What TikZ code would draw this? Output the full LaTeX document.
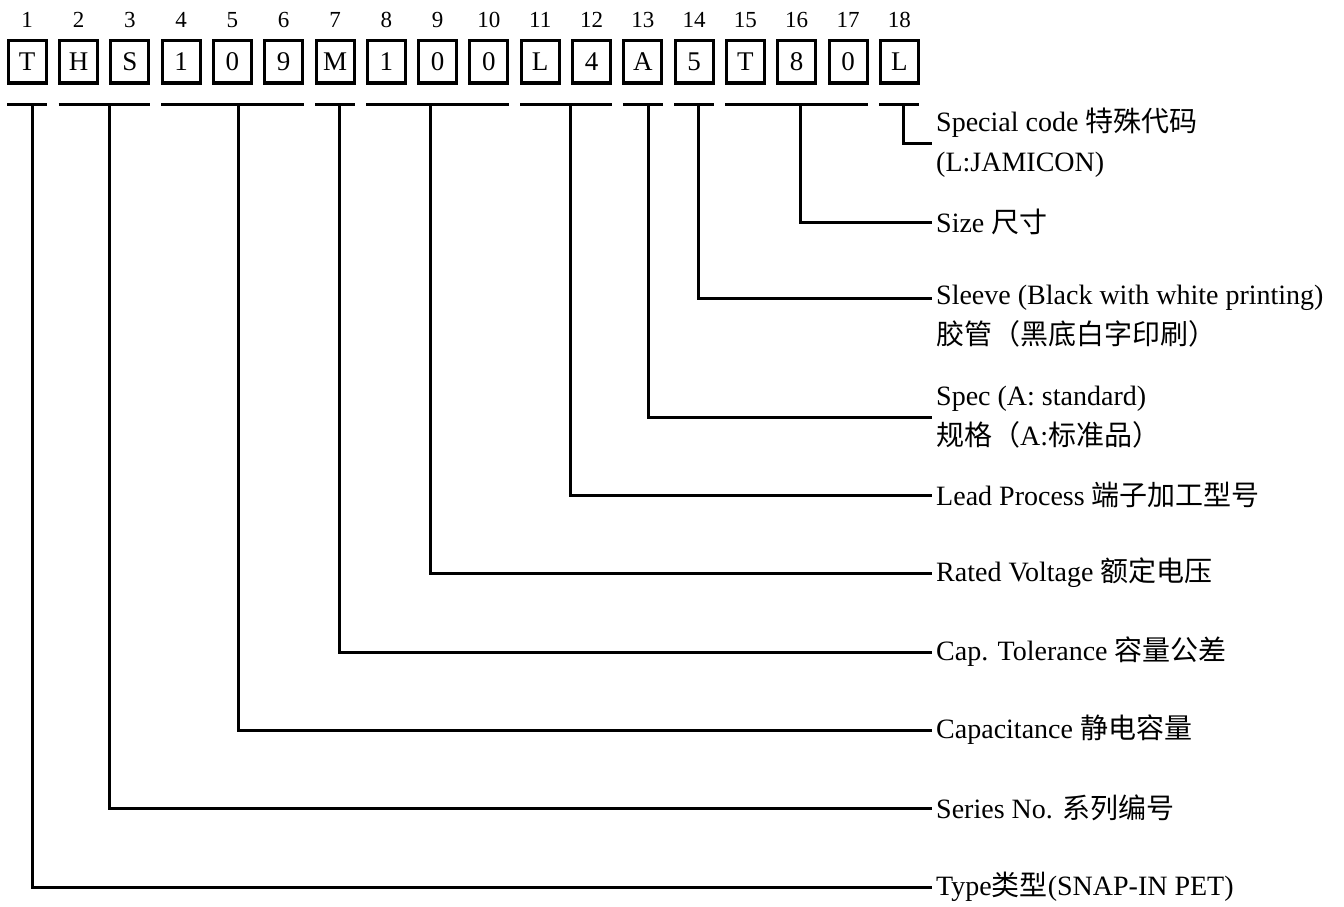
\documentclass[tikz,border=0pt]{standalone}
\usepackage{fontspec}
\setmainfont{Liberation Serif}
\newfontfamily\cjk{Noto Sans CJK SC}
\newcommand{\zh}[1]{{\cjk #1}}
\usetikzlibrary{calc}
\tikzset{
  every picture/.style={line join=miter, line cap=butt},
  codebox/.style={draw, line width=3pt, minimum width=38pt, minimum height=42pt, inner sep=0pt, outer sep=0pt, font=\fontsize{27}{30}\selectfont},
  posnum/.style={inner sep=0pt, font=\fontsize{23}{26}\selectfont},
  lbl/.style={anchor=west, inner xsep=4pt, inner ysep=0pt, align=left, font=\fontsize{28}{40}\selectfont},
  lead/.style={line width=3pt},
}

\begin{document}
\begin{tikzpicture}[x=1pt,y=-1pt]
\useasboundingbox (0,0) rectangle (1344,907);
% code boxes with position numbers
\foreach \ch [count=\i] in {T,H,S,1,0,9,M,1,0,0,L,4,A,5,T,8,0,L}{
  \node[codebox] (b\i) at ({27.2+51.3*(\i-1)},62) {\ch};
  \node[posnum] (n\i) at ({27.2+51.3*(\i-1)},20) {\i};
}
% underlines of the fields
\foreach \a/\b in {1/1,2/3,4/6,7/7,8/10,11/12,13/13,14/14,15/17,18/18}
  \draw[lead] ($(b\a.south west)+(-1,21)$)--($(b\b.south east)+(1,21)$);
% drop points
\coordinate (type) at (32,104);
\coordinate (series) at (109,104);
\coordinate (capac) at (238,104);
\coordinate (toler) at (339,104);
\coordinate (volt) at (430,104);
\coordinate (lproc) at (570,104);
\coordinate (spec) at (648,104);
\coordinate (sleeve) at (698,104);
\coordinate (size) at (800,104);
\coordinate (special) at (903,104);
% labels
\node[lbl] (Lspecial) at (932,143) {Special code \zh{特殊代码}\\(L:JAMICON)};
\node[lbl] (Lsize) at (932,222) {Size \zh{尺寸}};
\node[lbl] (Lsleeve) at (932,298) {Sleeve (Black with white printing)};
\node[lbl,anchor=base west] (Lsleevezh) at ($(Lsleeve.base west)+(0,40)$) {\zh{胶管（黑底白字印刷）}};
\node[lbl] (Lspec) at (932,417) {Spec (A: standard)\\\zh{规格（}A:\zh{标准品）}};
\node[lbl] (Llproc) at (932,495) {Lead Process \zh{端子加工型号}};
\node[lbl] (Lvolt) at (932,573) {Rated Voltage \zh{额定电压}};
\node[lbl] (Ltoler) at (932,652) {Cap. Tolerance \zh{容量公差}};
\node[lbl] (Lcapac) at (932,730) {Capacitance \zh{静电容量}};
\node[lbl] (Lseries) at (932,808) {Series No. \zh{系列编号}};
\node[lbl] (Ltype) at (932,887) {Type\zh{类型}(SNAP-IN PET)};
% leaders
\foreach \p in {special,size,sleeve,spec,lproc,volt,toler,capac,series,type}
  \draw[lead] (\p) |- (L\p.west);
\end{tikzpicture}
\end{document}
